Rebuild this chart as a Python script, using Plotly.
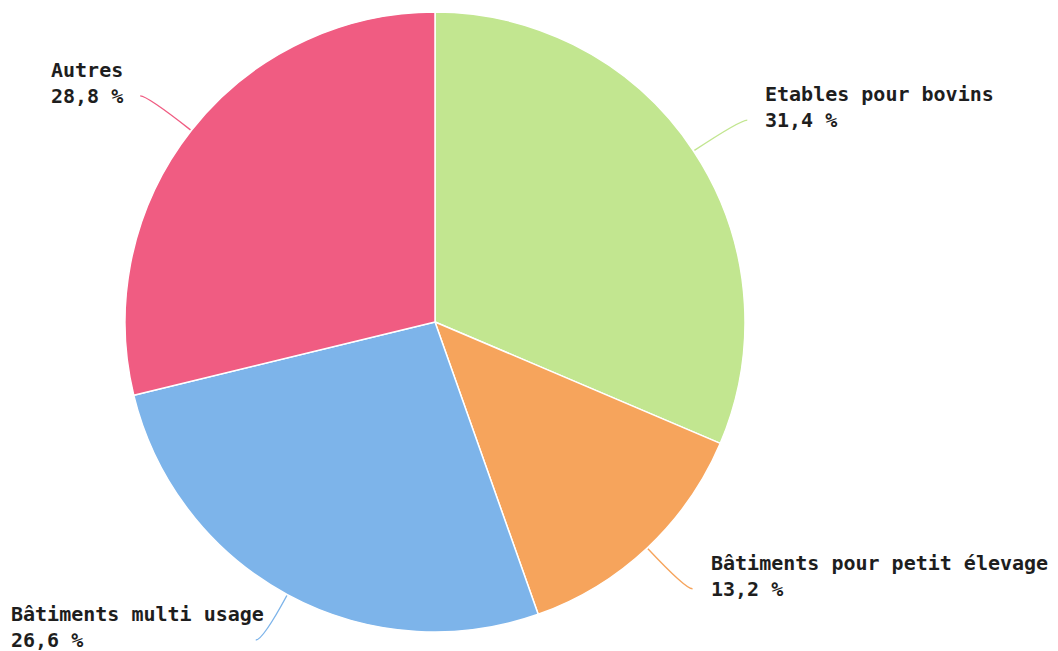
import math
import plotly.graph_objects as go

labels = ["Etables pour bovins", "Bâtiments pour petit élevage", "Bâtiments multi usage", "Autres"]
values = [31.4, 13.2, 26.6, 28.8]
value_text = ["31,4 %", "13,2 %", "26,6 %", "28,8 %"]
colors = ["#c2e690", "#f6a45c", "#7db4ea", "#f05c82"]

OFF = 8  # page body margin
W, H = 1058 - OFF, 651 - OFF
CX, CY, R = 435, 322, 310  # in window pixels
FS = 20
CHAR_W = 0.602 * FS


def px(x):
    return (x - OFF) / W


def py(y):
    return 1 - (y - OFF) / H


fig = go.Figure(go.Pie(
    labels=labels, values=values, sort=False, direction="clockwise", rotation=0,
    marker=dict(colors=colors, line=dict(color="white", width=1.5)),
    textinfo="none", hoverinfo="label+percent", showlegend=False,
    domain=dict(x=[px(CX - R), px(CX + R)], y=[py(CY + R), py(CY - R)]),
))

shapes = []
annotations = []
total = sum(values)
cum = 0.0
for lab, val, vt, col in zip(labels, values, value_text, colors):
    mid = (cum + val / 2) / total * 2 * math.pi
    cum += val
    dx, dy = math.sin(mid), -math.cos(mid)
    x0, y0 = CX + (R + 1) * dx, CY + (R + 1) * dy
    L1 = 55
    # keep the label block inside the canvas
    if y0 + L1 * dy > 640:
        L1 = (640 - y0) / dy
    cx, cy = x0 + L1 * dx, y0 + L1 * dy
    side = 1 if dx > 0 else -1
    x2, y2 = cx + side * 7, cy
    shapes.append(dict(
        type="path", xref="paper", yref="paper",
        path=f"M {px(x0)},{py(y0)} Q {px(cx)},{py(cy)} {px(x2)},{py(y2)}",
        line=dict(color=col, width=1.4),
    ))
    width = max(len(lab), len(vt)) * CHAR_W
    if side > 0:
        tx = x2 + 19
    else:
        tx = max(12, x2 - 16 - width)
    tx -= 3
    for txt, yy in ((lab, y2 - 26), (vt, y2)):
        annotations.append(dict(
            x=px(tx), y=py(yy), xref="paper", yref="paper",
            xanchor="left", yanchor="middle", showarrow=False,
            text=f"<b>{txt}</b>", align="left",
            font=dict(family="DejaVu Sans Mono", size=FS, color="#1e1e1e"),
        ))

fig.update_layout(
    width=W, height=H, margin=dict(l=0, r=0, t=0, b=0),
    paper_bgcolor="white", plot_bgcolor="white",
    shapes=shapes, annotations=annotations,
)
fig.write_html("out.html")
